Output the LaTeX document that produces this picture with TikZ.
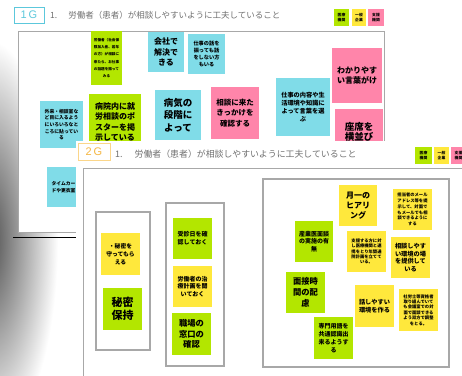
\documentclass[tikz,border=0pt]{standalone}
\usepackage{fontspec}
\setmainfont{Noto Sans CJK JP}
\newfontfamily\jp{Noto Sans CJK JP}
\newfontfamily\labfont{Liberation Sans}
\newcommand\fsz[2]{\fontsize{#1}{#2}\selectfont}
\usetikzlibrary{shadings}
\definecolor{cgreen}{HTML}{B3E600}
\definecolor{ccyan}{HTML}{80DCE8}
\definecolor{cpink}{HTML}{FF85AA}
\definecolor{cyellow}{HTML}{FFE83C}
\definecolor{framegray}{HTML}{A8A8A8}
\definecolor{titlegray}{HTML}{707070}
\definecolor{gcyan}{HTML}{5CC8DC}
\definecolor{gorange}{HTML}{F5B640}
\definecolor{gorangeb}{HTML}{FBD68A}
\begin{document}
\begin{tikzpicture}[x=1pt,y=-1pt,
  note/.style={inner sep=0pt, align=center, text=black},
  legbox/.style={inner sep=0pt, align=center, text=black, font=\jp\bfseries\fsz{3.8}{4.8}, minimum height=17pt},
  framebox/.style={draw=framegray, line width=1pt},
  groupbox/.style={draw=framegray, line width=1.3pt},
  titletext/.style={anchor=west, inner sep=0pt, text=titlegray},
  glabel/.style={inner sep=0pt, line width=0.9pt, font=\labfont\fsz{11}{12}},
  fA/.style={font=\jp\bfseries\fsz{3.6}{7.2}},
  fE/.style={font=\jp\bfseries\fsz{6}{7.7}},
  fG/.style={font=\jp\bfseries\fsz{8}{10.3}},
  fH/.style={font=\jp\bfseries\fsz{9.5}{12.3}},
  fI/.style={font=\jp\bfseries\fsz{11}{12.8}}]
\useasboundingbox (0,0) rectangle (462,375);
\clip (0,0) rectangle (462,375);
\fill[white] (0,0) rectangle (462,375);
% shadow at the left edge
\shade[inner color=black!70, outer color=white] (-12,240) ellipse [x radius=70pt, y radius=200pt];

% ---------------- slide 1 (1G) ----------------
\fill[white] (18,31) rectangle (384,232);
\draw[framebox] (18,31) rectangle (384,232);
\node[glabel, draw=gcyan, text=gcyan, minimum width=30pt, minimum height=16pt] (g1) at (29,15) {1\,G};
\node[titletext, font=\jp\fsz{8.5}{9}] (t1) at (50,15.5) {1.\hspace{11pt}労働者（患者）が相談しやすいように工夫していること};
\node[legbox, fill=cgreen, minimum width=15pt] (l1g) at (341.5,17.5) {医療\\機関};
\node[legbox, fill=cyellow, minimum width=14pt] (l1y) at (359,17.5) {一般\\企業};
\node[legbox, fill=cpink, minimum width=16pt] (l1p) at (376,17.5) {支援\\機関};

\node[note, fA, fill=cgreen, minimum width=31pt, minimum height=54pt] (n1) at (106.5,58) {労働者（社会保\\険加入者、若年\\の方）が相談に\\来たら、お仕事\\の話題を振って\\みる};
\node[note, fG, fill=ccyan, minimum width=36pt, minimum height=40pt] (n2) at (166,52) {会社で\\解決で\\きる};
\node[note, font=\jp\bfseries\fsz{5.2}{7}, fill=ccyan, minimum width=37pt, minimum height=40pt] (n3) at (206.5,54) {仕事の話を\\振っても話\\をしない方\\もいる};
\node[note, font=\jp\bfseries\fsz{4.8}{6.6}, fill=ccyan, minimum width=43pt, minimum height=47pt] (n4) at (61.5,124.5) {外来・相談室な\\ど目に入るよう\\にいろいろなと\\ころに貼ってい\\る};
\node[note, fG, fill=cgreen, minimum width=52pt, minimum height=56pt] (n5) at (115,122) {病院内に就\\労相談のポ\\スターを掲\\示している};
\node[note, fH, fill=ccyan, minimum width=46pt, minimum height=50pt] (n6) at (178,115) {病気の\\段階に\\よって};
\node[note, font=\jp\bfseries\fsz{7.5}{10.5}, fill=cpink, minimum width=48pt, minimum height=52pt] (n7) at (235,113) {相談に来た\\きっかけを\\確認する};
\node[note, font=\jp\bfseries\fsz{6.2}{8.3}, fill=ccyan, minimum width=54pt, minimum height=58pt] (n8) at (303,107) {仕事の内容や生\\活環境や知識に\\よって言葉を選\\ぶ};
\node[note, fG, fill=cpink, minimum width=50pt, minimum height=55pt] (n9) at (357,75.5) {わかりやす\\い言葉がけ};
\node[note, font=\jp\bfseries\fsz{9.5}{10.5}, fill=cpink, minimum width=48pt, minimum height=46pt] (n10) at (359,132) {座席を\\横並び};
\node[note, font=\jp\bfseries\fsz{4.8}{7}, fill=ccyan, minimum width=33pt, minimum height=40pt] (n11) at (63.5,187) {タイムカー\\ドや更衣室};

\coordinate (bl1) at (13,237);
\coordinate (bl2) at (76,237);
\draw[black, line width=1pt] (bl1) -- (bl2);

% ---------------- slide 2 (2G) ----------------
\fill[white] (76,141) rectangle (470,380);
\draw[framebox] (83,168) rectangle (480,400);
\node[glabel, draw=gorangeb, text=gorange, minimum width=32pt, minimum height=17pt] (g2) at (94,151.5) {2\,G};
\node[titletext, font=\jp\fsz{8.9}{9.5}] (t2) at (115,154) {1.\hspace{12pt}労働者（患者）が相談しやすいように工夫していること};
\node[legbox, fill=cgreen, minimum width=17pt] (l2g) at (423.5,155.5) {医療\\機関};
\node[legbox, fill=cyellow, minimum width=15pt] (l2y) at (441.5,155.5) {一般\\企業};
\node[legbox, fill=cpink, minimum width=15pt] (l2p) at (458.5,155.5) {支援\\機関};

\draw[groupbox] (96,212) rectangle (150,350);
\draw[groupbox] (166,203) rectangle (224,366);
\draw[groupbox] (263,179) rectangle (449,367);

\node[note, font=\jp\bfseries\fsz{5.8}{8}, fill=cyellow, minimum width=39pt, minimum height=42pt] (s1) at (120.5,254) {・秘密を\\守ってもら\\える};
\node[note, fI, fill=cgreen, minimum width=39pt, minimum height=42pt] (s2) at (122.5,309) {秘密\\保持};
\node[note, fE, fill=cgreen, minimum width=39pt, minimum height=41pt] (s3) at (192.5,238.5) {受診日を確\\認しておく};
\node[note, fE, fill=cyellow, minimum width=39pt, minimum height=41pt] (s4) at (192.5,286.5) {労働者の治\\療計画を聞\\いておく};
\node[note, font=\jp\bfseries\fsz{8.3}{10.6}, fill=cgreen, minimum width=39pt, minimum height=42pt] (s5) at (191.5,334) {職場の\\窓口の\\確認};
\node[note, fG, fill=cyellow, minimum width=38pt, minimum height=41pt] (s6) at (358,205.5) {月一の\\ヒアリ\\ング};
\node[note, font=\jp\bfseries\fsz{4.3}{5.7}, fill=cyellow, minimum width=39pt, minimum height=41pt] (s7) at (412.5,209.5) {担当者のメール\\アドレス等を提\\示して、対面で\\もメールでも相\\談できるように\\する};
\node[note, fE, fill=cgreen, minimum width=38pt, minimum height=41pt] (s8) at (314,241.5) {産業医面談\\の実施の有\\無};
\node[note, font=\jp\bfseries\fsz{4.3}{5.3}, fill=cyellow, minimum width=39pt, minimum height=41pt] (s9) at (366.5,251.5) {支援する方に対\\し医療機関と連\\携をとり年間通\\院計画を立てて\\いる。};
\node[note, font=\jp\bfseries\fsz{6.2}{7.6}, fill=cyellow, minimum width=39pt, minimum height=41pt] (s10) at (410.5,257.5) {相談しやす\\い環境の場\\を提供して\\いる};
\node[note, font=\jp\bfseries\fsz{8.3}{10.8}, fill=cgreen, minimum width=39pt, minimum height=41pt] (s11) at (305.5,292.5) {面接時\\間の配\\慮};
\node[note, font=\jp\bfseries\fsz{6.2}{7.5}, fill=cyellow, minimum width=39pt, minimum height=42pt] (s12) at (374.5,306) {話しやすい\\環境を作る};
\node[note, font=\jp\bfseries\fsz{4.3}{5.4}, fill=cyellow, minimum width=39pt, minimum height=42pt] (s13) at (418.5,310) {社労士等資格者\\取り組んでいて\\も会議室での対\\面で面談できる\\よう双方で調整\\をとる。};
\node[note, font=\jp\bfseries\fsz{6}{8}, fill=cgreen, minimum width=39pt, minimum height=42pt] (s14) at (333.5,338) {専門用語を\\共通認識出\\来るようす\\る};
\end{tikzpicture}
\end{document}
